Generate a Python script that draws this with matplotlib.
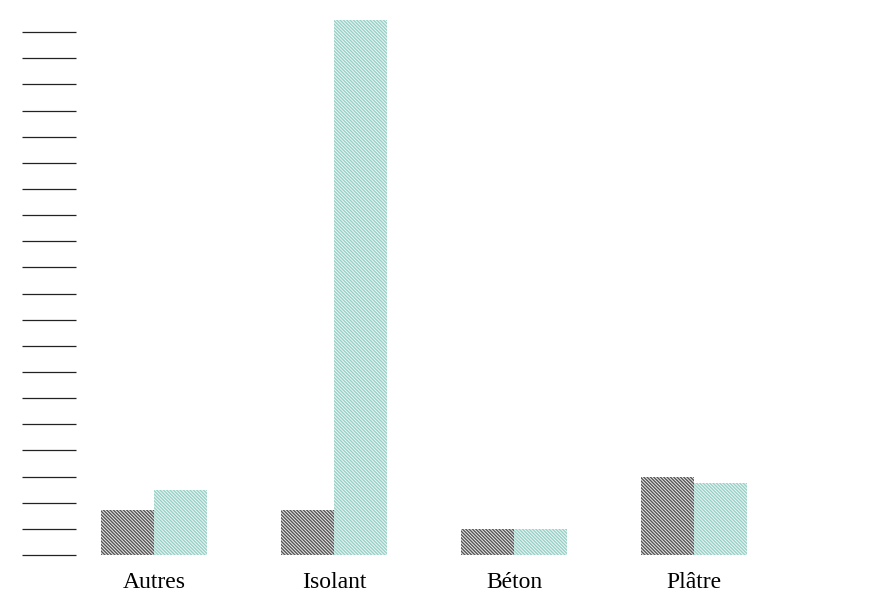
import matplotlib.pyplot as plt
import numpy as np

plt.rcParams['hatch.linewidth'] = 1.0

# data
categories = ['Autres', 'Isolant', 'Béton', 'Plâtre']
serie_a = [1.72, 1.72, 1.0, 2.98]
serie_b = [2.49, 20.46, 1.0, 2.75]
yticks = np.arange(0, 21, 1)

fig = plt.figure(figsize=(8.74, 5.98), dpi=100)
ax = fig.add_axes([76 / 874, 43 / 598, (772 - 76) / 874, (555 - 19) / 598])

x = np.arange(len(categories))
w = 0.294
ax.bar(x - w / 2, serie_a, w, facecolor='#eeeeee', edgecolor='#555555', hatch='\\' * 10, linewidth=0)
ax.bar(x + w / 2, serie_b, w, facecolor='#eef8f6', edgecolor='#98d0c8', hatch='\\' * 10, linewidth=0)

ax.set_xlim(-0.433, 3.433)
ax.set_ylim(0, 20.5)
ax.set_xticks(x)
ax.set_xticklabels(categories, fontfamily='Liberation Serif', fontsize=17)
ax.set_yticks(yticks)
ax.set_yticklabels([])
ax.tick_params(axis='x', length=0, pad=12)
ax.tick_params(axis='y', length=39, width=0.9, color='#222222', direction='out')
for s in ax.spines.values():
    s.set_visible(False)

fig.savefig('out.png', dpi=100)
